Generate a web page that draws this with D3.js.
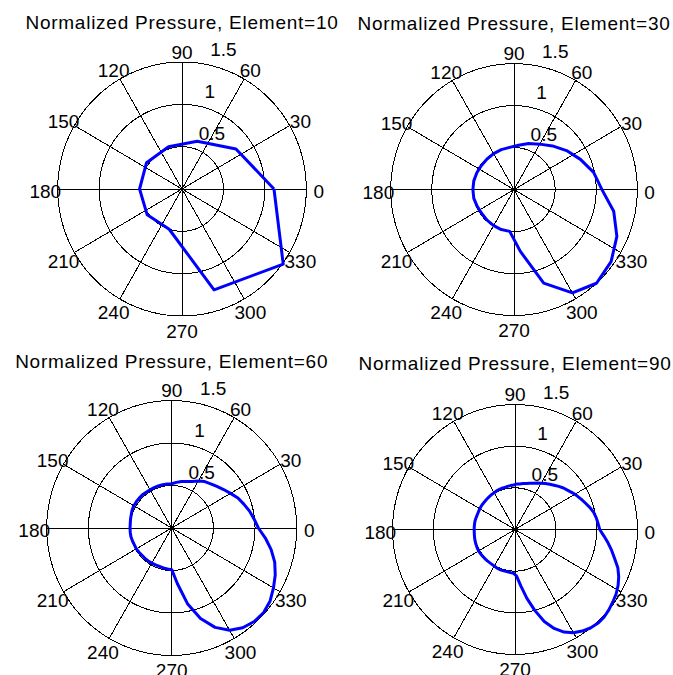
<!DOCTYPE html>
<html>
<head>
<meta charset="utf-8">
<script src="https://cdn.jsdelivr.net/npm/d3@7"></script>
<style>
  body { margin: 0; background: #fff; }
  svg { display: block; }
  text { font-family: "Liberation Sans", Arial, Helvetica, sans-serif; font-size: 19px; fill: #000; }
</style>
</head>
<body>
<svg id="chart" width="673" height="675"></svg>
<script>
// Array element counts, one polar panel each
const elementCounts = [10, 30, 60, 90];

// Radial rings and the 82-degree ring labels
const ringValues = [0.5, 1, 1.5];
const ringLabels = ["0.5", "1", "1.5"];
const rMax = 1.5;

// Spoke directions (degrees) and their labels at both ends
const spokeAngles = [30, 60, 90, 120, 150, 180];
const spokeLabels = ["30", "60", "90", "120", "150", "180"];
const oppositeLabels = ["210", "240", "270", "300", "330", "0"];

// Normalized pressure, evenly spaced samples starting at 0 degrees
const pressure10 = [1.11, 0.805, 0.594, 0.525, 0.529, 0.512, 0.519, 0.50, 1.252, 1.51];

const pressure30 = [
  1.07, 0.99, 0.885, 0.79, 0.70, 0.625, 0.578, 0.53, 0.505, 0.50,
  0.495, 0.49, 0.49, 0.495, 0.50, 0.50, 0.50, 0.49, 0.485, 0.49,
  0.495, 0.50, 0.50, 0.74, 1.17, 1.42, 1.50, 1.46, 1.37, 1.24
];

const pressure60 = [
  1.04, 0.995, 0.955, 0.91, 0.87, 0.815, 0.77, 0.73, 0.70, 0.675,
  0.64, 0.60, 0.575, 0.56, 0.54, 0.52, 0.52, 0.52, 0.52, 0.52,
  0.52, 0.52, 0.525, 0.525, 0.525, 0.525, 0.52, 0.51, 0.505, 0.50,
  0.50, 0.50, 0.50, 0.495, 0.49, 0.49, 0.485, 0.48, 0.48, 0.48,
  0.477, 0.475, 0.475, 0.48, 0.485, 0.49, 0.66, 0.91, 1.12, 1.28,
  1.39, 1.45, 1.48, 1.485, 1.46, 1.41, 1.36, 1.30, 1.22, 1.13
];

const pressure90 = [
  1.037, 1.02, 1.005, 0.985, 0.955, 0.92, 0.89, 0.86, 0.83, 0.80,
  0.775, 0.745, 0.715, 0.69, 0.665, 0.64, 0.62, 0.60, 0.585, 0.57,
  0.56, 0.55, 0.545, 0.535, 0.53, 0.525, 0.52, 0.52, 0.518, 0.515,
  0.51, 0.508, 0.505, 0.503, 0.50, 0.50, 0.50, 0.499, 0.497, 0.495,
  0.495, 0.497, 0.50, 0.50, 0.50, 0.50, 0.50, 0.502, 0.505, 0.508,
  0.51, 0.512, 0.514, 0.514, 0.512, 0.51, 0.508, 0.506, 0.505, 0.505,
  0.507, 0.512, 0.515, 0.515, 0.515, 0.515, 0.52, 0.525, 0.56, 0.68,
  0.84, 1.00, 1.16, 1.28, 1.37, 1.43, 1.47, 1.50, 1.515, 1.515,
  1.50, 1.48, 1.46, 1.43, 1.39, 1.34, 1.27, 1.21, 1.15, 1.09
];

const pressureSeries = [pressure10, pressure30, pressure60, pressure90];

// Panel frames: centre and half-extent of each polar axes in pixels
const panels = [
  { cx: 182, cy: 189, rx: 124.3, ry: 127 },
  { cx: 514, cy: 189.6, rx: 123.3, ry: 126 },
  { cx: 171.7, cy: 528, rx: 125, ry: 127.5 },
  { cx: 515, cy: 529.5, rx: 122.5, ry: 125 }
];

const svg = d3.select("#chart");
svg.append("rect").attr("width", 673).attr("height", 675).attr("fill", "#fff");

const rad = d => d * Math.PI / 180;

panels.forEach((p, idx) => {
  const x = d3.scaleLinear().domain([-rMax, rMax]).range([p.cx - p.rx, p.cx + p.rx]);
  const y = d3.scaleLinear().domain([-rMax, rMax]).range([p.cy + p.ry, p.cy - p.ry]);
  const g = svg.append("g").attr("class", "panel");

  const polar = d3.line()
    .x(d => x(d.r * Math.cos(rad(d.a))))
    .y(d => y(d.r * Math.sin(rad(d.a))));

  // rings drawn as 100-segment polygons
  const ringSteps = d3.range(0, 101).map(k => k * 3.6);
  ringValues.forEach(rv => {
    g.append("path")
      .attr("d", polar(ringSteps.map(a => ({ a, r: rv }))))
      .attr("fill", "none").attr("stroke", "#000").attr("stroke-width", 1)
      .attr("shape-rendering", "crispEdges");
  });

  // spokes through the centre
  spokeAngles.forEach(a => {
    g.append("path")
      .attr("d", polar([{ a, r: rMax }, { a: a + 180, r: rMax }]))
      .attr("fill", "none").attr("stroke", "#000").attr("stroke-width", 1)
      .attr("shape-rendering", "crispEdges");
  });

  // angle labels
  const rt = 1.1 * rMax;
  spokeAngles.forEach((a, i) => {
    [[a, spokeLabels[i]], [a + 180, oppositeLabels[i]]].forEach(([ang, lab]) => {
      g.append("text")
        .attr("x", x(rt * Math.cos(rad(ang))))
        .attr("y", y(rt * Math.sin(rad(ang))))
        .attr("dy", 9.2)
        .attr("text-anchor", "middle")
        .text(lab);
    });
  });

  // ring labels along 82 degrees
  const rinc = ringValues[0];
  ringValues.forEach((rv, i) => {
    const rr = rv + rinc / 20;
    g.append("text")
      .attr("x", x(rr * Math.cos(rad(82))))
      .attr("y", y(rr * Math.sin(rad(82))))
      .attr("dx", 10.6)
      .attr("dy", -5)
      .text(ringLabels[i]);
  });

  // pressure pattern, closed back to 0 degrees
  const vals = pressureSeries[idx];
  const n = vals.length;
  const pts = vals.map((r, k) => ({ a: k * 360 / n, r }));
  pts.push({ a: 360, r: vals[0] });
  g.append("path")
    .attr("d", polar(pts))
    .attr("fill", "none").attr("stroke", "#0000ff").attr("stroke-width", 3)
    .attr("stroke-linejoin", "round");

  // title
  g.append("text")
    .attr("x", p.cx)
    .attr("y", p.cy - 160)
    .attr("text-anchor", "middle")
    .attr("letter-spacing", 0.75)
    .text(`Normalized Pressure, Element=${elementCounts[idx]}`);
});
</script>
</body>
</html>
